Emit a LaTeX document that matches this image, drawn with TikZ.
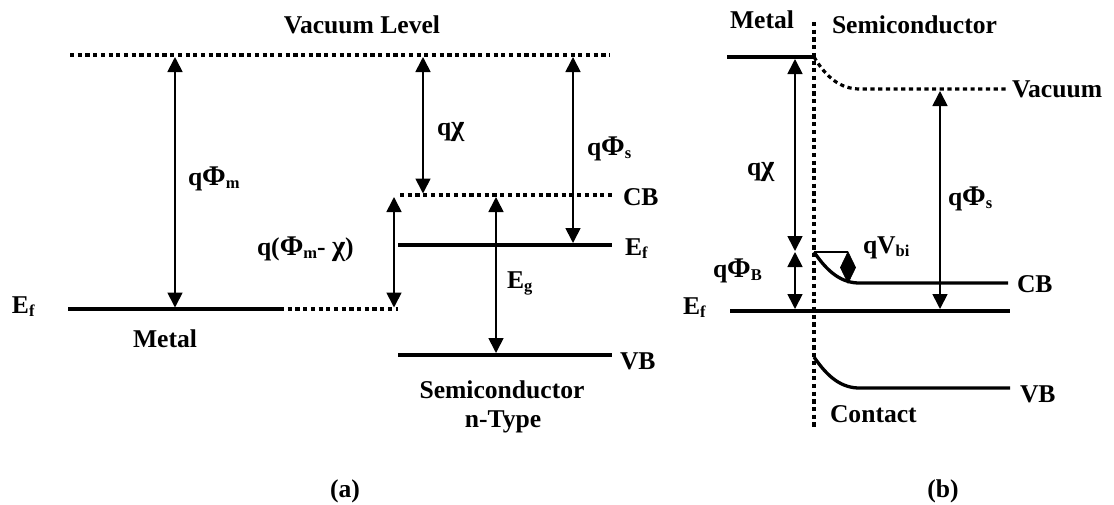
\documentclass[tikz,border=0pt]{standalone}
\usepackage{fontspec}
\setmainfont{Liberation Serif}
\usetikzlibrary{arrows.meta}
\newcommand\sbs[1]{\raisebox{-3.5pt}{\fontsize{16.5}{18}\selectfont #1}}
\newcommand\Ph{{\fontsize{28.5}{30}\selectfont Φ}}
\newcommand\ch{{\fontsize{28.5}{30}\selectfont χ}}
\begin{document}
\begin{tikzpicture}[x=1pt,y=-1pt,
  lbl/.style={font=\bfseries\fontsize{25.6}{30}\selectfont, inner sep=0pt, outer sep=0pt},
  bw/.style={lbl, anchor=base west},
  bc/.style={lbl, anchor=base},
  level/.style={line width=3.3pt},
  dotlevel/.style={line width=3.2pt, dash pattern=on 4.2pt off 3.5pt},
  darrow/.style={line width=1.7pt, {Triangle[width=15pt,length=15pt]}-{Triangle[width=15pt,length=15pt]}},
  thinline/.style={line width=1.7pt},
  diamfill/.style={fill=black, draw=black, line width=0.8pt}
]
\useasboundingbox (0,0) rectangle (1114,504);

%% ---------------- (a) ----------------
% levels
\coordinate (vacL) at (70,55);   \coordinate (vacR) at (610,55);
\coordinate (mL) at (68,309);    \coordinate (mR) at (280,309);  \coordinate (mD) at (398,309);
\coordinate (cbL) at (400,195);  \coordinate (cbR) at (613,195);
\coordinate (efL) at (398,245);  \coordinate (efR) at (612,245);
\coordinate (vbL) at (398,355);  \coordinate (vbR) at (612,355);
\draw[dotlevel] (vacL) -- (vacR);
\draw[level] (mL) -- (mR);
\draw[dotlevel] (mR) -- (mD);
\draw[dotlevel] (cbL) -- (cbR);
\draw[level] (efL) -- (efR);
\draw[level] (vbL) -- (vbR);

% arrows
\coordinate (phimT) at (175,57);  \coordinate (phimB) at (175,307.5);
\coordinate (chiT) at (423,57);   \coordinate (chiB) at (423,193.5);
\coordinate (phisT) at (573,57);  \coordinate (phisB) at (573,243);
\coordinate (pmcT) at (394,197);  \coordinate (pmcB) at (394,307.5);
\coordinate (egT) at (496,197);   \coordinate (egB) at (496,353);
\draw[darrow] (phimT) -- (phimB);
\draw[darrow] (chiT) -- (chiB);
\draw[darrow] (phisT) -- (phisB);
\draw[darrow] (pmcT) -- (pmcB);
\draw[darrow] (egT) -- (egB);

% labels
\node[bc] (vaclbl) at (362,33) {Vacuum Level};
\node[bw] (phimlbl) at (188,185) {q\Ph\sbs{m}};
\node[bw] (pmclbl) at (257,255) {q(\Ph\sbs{m}- \ch)};
\node[bw] (chilbl) at (437,135) {q\ch};
\node[bw] (phislbl) at (587,155) {q\Ph\sbs{s}};
\node[bw] (cblblA) at (623,205) {CB};
\node[bw] (eflblA) at (625,255) {E\sbs{f}};
\node[bw] (eglbl) at (507,288) {E\sbs{g}};
\node[bw] (vblblA) at (620,369) {VB};
\node[bw] (efleft) at (12,313) {E\sbs{f}};
\node[bc] (metalA) at (165,347) {Metal};
\node[bc] (semiA) at (502,398) {Semiconductor};
\node[bc] (ntype) at (503,427) {n-Type};
\node[bc] (capA) at (345,497) {(a)};

%% ---------------- (b) ----------------
\coordinate (ifT) at (814,22);   \coordinate (ifB) at (814,427);
\draw[dotlevel] (ifT) -- (ifB);

\coordinate (bmL) at (727,57);   \coordinate (bmR) at (814,57);
\draw[level] (bmL) -- (bmR);

\coordinate (bvac0) at (814,57); \coordinate (bvac1) at (860,89); \coordinate (bvacR) at (1008,89);
\draw[dotlevel] (bvac0) .. controls (826,77) and (840,89) .. (bvac1) -- (bvacR);

\coordinate (bcb0) at (814,252); \coordinate (bcb1) at (862,283); \coordinate (bcbR) at (1008,283);
\draw[level] (bcb0) .. controls (827,271) and (841,284) .. (bcb1) -- (bcbR);

\coordinate (bvb0) at (814,357); \coordinate (bvb1) at (862,388); \coordinate (bvbR) at (1010,388);
\draw[level] (bvb0) .. controls (827,376) and (841,389) .. (bvb1) -- (bvbR);

\coordinate (befL) at (730,311); \coordinate (befR) at (1010,311);
\draw[level] (befL) -- (befR);

% arrows
\coordinate (bchiT) at (795,59);  \coordinate (bchiB) at (795,251);
\coordinate (bphiBT) at (795,252); \coordinate (bphiBB) at (795,309);
\coordinate (bphisT) at (940,91); \coordinate (bphisB) at (940,309);
\draw[darrow] (bchiT) -- (bchiB);
\draw[darrow] (bphiBT) -- (bphiBB);
\draw[darrow] (bphisT) -- (bphisB);

\coordinate (vbiH) at (848,252);
\coordinate (vbiB) at (848,283);
\draw[thinline] (bcb0) -- (vbiH);
\draw[diamfill] (vbiH) -- (855.5,267.5) -- (vbiB) -- (840.5,267.5) -- cycle;

% labels
\node[bw] (metalB) at (730,28) {Metal};
\node[bw] (semiB) at (832,33) {Semiconductor};
\node[bw] (vacB) at (1012,97) {Vacuum};
\node[bw] (chiB) at (747,175) {q\ch};
\node[bw] (phisBl) at (948,205) {q\Ph\sbs{s}};
\node[bw] (vbil) at (863,253) {qV\sbs{bi}};
\node[bw] (phiBl) at (713,277) {q\Ph\sbs{B}};
\node[bw] (efB) at (683,314) {E\sbs{f}};
\node[bw] (cbB) at (1017,292) {CB};
\node[bw] (vbB) at (1020,402) {VB};
\node[bw] (contact) at (830,422) {Contact};
\node[bc] (capB) at (943,497) {(b)};
\end{tikzpicture}
\end{document}
